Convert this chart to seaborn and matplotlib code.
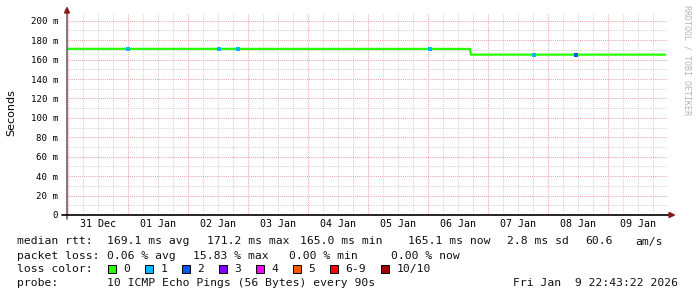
import matplotlib
matplotlib.use("Agg")
import matplotlib.pyplot as plt
import matplotlib.dates as mdates
from matplotlib.ticker import MultipleLocator, FuncFormatter
from matplotlib.patches import Rectangle, Polygon
import seaborn as sns
import pandas as pd

# ---------------- data ----------------
rtt_times = ["2025-12-30 23:30", "2026-01-06 16:40", "2026-01-06 17:05", "2026-01-09 22:43"]
rtt_ms = [171.1, 171.0, 165.1, 165.1]

loss_times = ["2026-01-01 00:00", "2026-01-02 12:15", "2026-01-02 19:45",
              "2026-01-06 00:45", "2026-01-07 18:15", "2026-01-08 11:00"]
loss_ms = [171.1, 171.1, 171.1, 171.1, 165.1, 165.1]
loss_counts = ["1", "1", "1", "1", "1", "2"]

loss_labels = ["0", "1", "2", "3", "4", "5", "6-9", "10/10"]
loss_colors = ["#26ff00", "#00b8ff", "#0059ff", "#7e00ff", "#ff00ff", "#ff5500", "#ff0000", "#a10000"]

y_tick_values = [0, 20, 40, 60, 80, 100, 120, 140, 160, 180, 200]
y_tick_labels = ["0", "20 m", "40 m", "60 m", "80 m", "100 m", "120 m", "140 m", "160 m", "180 m", "200 m"]

rtt_stats = ["169.1 ms avg", "171.2 ms max", "165.0 ms min", "165.1 ms now", "2.8 ms sd", "60.6", "am/s"]
loss_stats = ["0.06 % avg", "15.83 % max", "0.00 % min", "0.00 % now"]
probe_text = "10 ICMP Echo Pings (56 Bytes) every 90s"
stamp_text = "Fri Jan  9 22:43:22 2026"

# ---------------- figure ----------------
W, H = 697, 297
sns.set_theme(style="white")
plt.rcParams["font.family"] = ["DejaVu Sans Mono", "DejaVu Sans"]
fig = plt.figure(figsize=(W / 100, H / 100), dpi=100)
fig.patch.set_facecolor("white")

L, R, B, T = 67, 667, 215, 13
ax = fig.add_axes([L / W, 1 - B / H, (R - L) / W, (B - T) / H])
ax.set_facecolor("white")

df_rtt = pd.DataFrame({"t": pd.to_datetime(rtt_times), "rtt": rtt_ms})
df_loss = pd.DataFrame({"t": pd.to_datetime(loss_times), "rtt": loss_ms, "loss": loss_counts})

sns.lineplot(data=df_rtt, x="t", y="rtt", color=loss_colors[0], linewidth=1.6, ax=ax, zorder=3)
pal = {lab: col for lab, col in zip(loss_labels, loss_colors)}
sns.scatterplot(data=df_loss, x="t", y="rtt", hue="loss", palette=pal, marker="s", s=8,
                linewidth=0, legend=False, ax=ax, zorder=4)

ax.set_xlim(pd.Timestamp("2025-12-30 23:30"), pd.Timestamp("2026-01-09 23:30"))
ax.set_ylim(0, 208)
ax.set_xlabel("")
ax.set_ylabel("")

# grids
major_c = "#eaa8a8"
minor_c = "#d4d4d4"
dot = (0, (1, 1))
ax.xaxis.set_major_locator(mdates.DayLocator())
ax.xaxis.set_minor_locator(mdates.HourLocator(byhour=[6, 12, 18]))
ax.xaxis.set_major_formatter(FuncFormatter(lambda v, p: ""))


def minor_fmt(v, p):
    d = mdates.num2date(v)
    return d.strftime("%d %b") if d.hour == 12 else ""


ax.xaxis.set_minor_formatter(FuncFormatter(minor_fmt))
ax.set_yticks(y_tick_values)
ax.set_yticklabels(y_tick_labels)
ax.yaxis.set_minor_locator(MultipleLocator(10))

ax.grid(which="major", color=major_c, linestyle=dot, linewidth=0.75, zorder=1)
ax.grid(which="minor", color=minor_c, linestyle=dot, linewidth=0.75, zorder=0)
ax.set_axisbelow(True)

ax.tick_params(axis="x", which="major", length=2, width=0.8, color="#000000", direction="out")
ax.tick_params(axis="x", which="minor", length=0, labelsize=7.2, pad=3, labelcolor="#000000")
ax.tick_params(axis="y", which="both", length=0, labelsize=6.6, pad=6.3, labelcolor="#000000")

for s in ax.spines.values():
    s.set_visible(False)

# axes lines with arrows (extending a bit past the plot area)
ax.plot([0, 0], [-4 / (B - T), 1 + 2 / (B - T)], transform=ax.transAxes, color="#666666",
        lw=1.2, clip_on=False, zorder=5)
ax.plot([-5 / (R - L), 1 + 2 / (R - L)], [0, 0], transform=ax.transAxes, color="#000000",
        lw=1.2, clip_on=False, zorder=5)
fx = lambda px: px / W
fy = lambda py: 1 - py / H
fig.patches.append(Polygon([[fx(64.5), fy(13)], [fx(69.5), fy(13)], [fx(67), fy(7.5)]],
                           closed=True, transform=fig.transFigure, color="#8b1a1a", zorder=6))
fig.patches.append(Polygon([[fx(669), fy(212.5)], [fx(669), fy(217.5)], [fx(674.5), fy(215)]],
                           closed=True, transform=fig.transFigure, color="#8b1a1a", zorder=6))

# y label
fig.text(fx(11), fy(113), "Seconds", rotation=90, ha="center", va="center",
         fontsize=8, family=["DejaVu Sans"], color="#000000")

# watermark
fig.text(fx(687.5), fy(5), "RRDTOOL / TOBI OETIKER", rotation=270, ha="center", va="top",
         fontsize=6, color="#b4b4b4")

# legend text
fs = 8.2
col_label = 16.7
col_val = 107.3


def t(x, y, s):
    fig.text(fx(x), fy(y), s, ha="left", va="center", fontsize=fs, color="#111111")


y1, y2, y3, y4 = 241.5, 256, 269, 283.5
t(col_label, y1, "median rtt:")
for x, s in zip([107.3, 207.3, 300, 408.3, 506.7, 585.7, 635], rtt_stats):
    t(x, y1, s)
t(col_label, y2, "packet loss:")
for x, s in zip([107.3, 193.3, 288.7, 391], loss_stats):
    t(x, y2, s)
t(col_label, y3, "loss color:")
bx = 108.3
for lab, col in zip(loss_labels, loss_colors):
    fig.patches.append(Rectangle((fx(bx), fy(273)), 7.3 / W, 8.3 / H, transform=fig.transFigure,
                                 facecolor=col, edgecolor="#000000", linewidth=0.7))
    t(bx + 15, y3, lab)
    bx += 37 + 7 * (len(lab) - 1)
t(col_label, y4, "probe:")
t(col_val, y4, probe_text)
t(513.3, y4, stamp_text)

fig.savefig("out.png", dpi=100, facecolor="white")
